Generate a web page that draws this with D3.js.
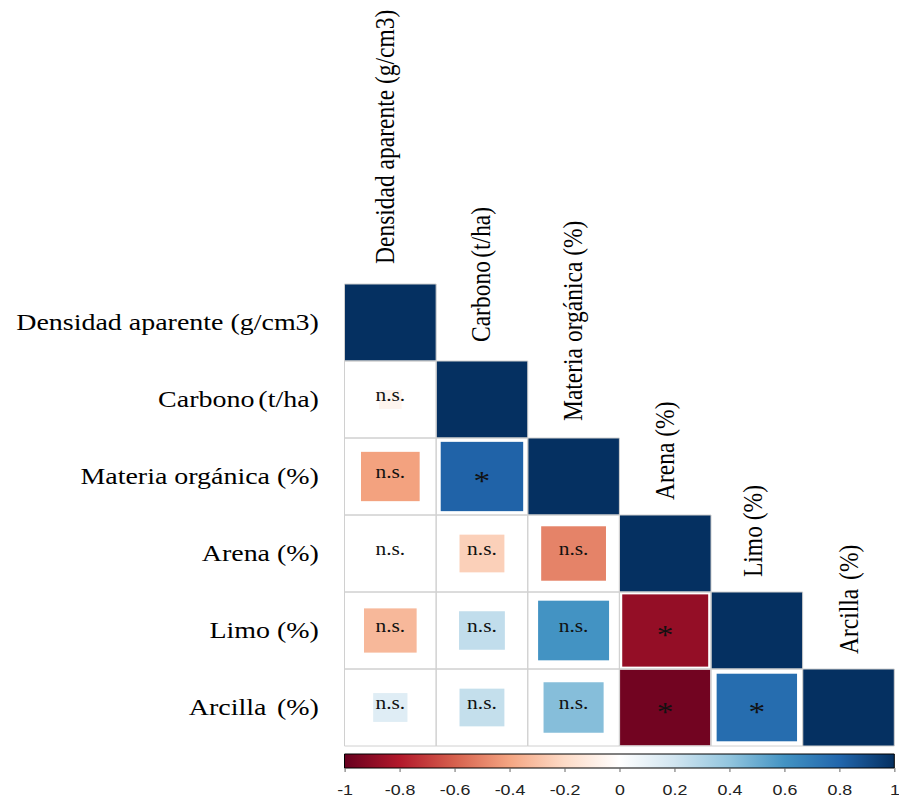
<!DOCTYPE html>
<html>
<head>
<meta charset="utf-8">
<script src="https://cdn.jsdelivr.net/npm/d3@7"></script>
<style>
  html, body { margin: 0; padding: 0; background: #ffffff; }
  svg { display: block; }
</style>
</head>
<body>
<svg id="chart" width="899" height="801"></svg>
<script>
// ---------------- DATA ----------------
const variables = [
  "Densidad aparente (g/cm3)",
  "Carbono (t/ha)",
  "Materia orgánica (%)",
  "Arena (%)",
  "Limo (%)",
  "Arcilla (%)"
];
// lower-triangle correlation coefficients, one array per row (last value = diagonal)
const rowDensidad = [1];
const rowCarbono  = [-0.06, 1];
const rowMateria  = [-0.41, 0.81, 1];
const rowArena    = [0.01, -0.24, -0.50, 1];
const rowLimo     = [-0.33, 0.25, 0.60, -0.88, 1];
const rowArcilla  = [0.14, 0.24, 0.43, -0.97, 0.77, 1];
// significance marks, one array per row
const sigDensidad = [""];
const sigCarbono  = ["n.s.", ""];
const sigMateria  = ["n.s.", "*", ""];
const sigArena    = ["n.s.", "n.s.", "n.s.", ""];
const sigLimo     = ["n.s.", "n.s.", "n.s.", "*", ""];
const sigArcilla  = ["n.s.", "n.s.", "n.s.", "*", "*", ""];
// colour ramp (corrplot RdBu) and colour-bar ticks
const colorStops = [-1, -0.8, -0.6, -0.4, -0.2, 0, 0.2, 0.4, 0.6, 0.8, 1];
const palette = ["#67001F", "#B2182B", "#D6604D", "#F4A582", "#FDDBC7", "#FFFFFF",
                 "#D1E5F0", "#92C5DE", "#4393C3", "#2166AC", "#053061"];
const colorbarTicks = [-1, -0.8, -0.6, -0.4, -0.2, 0, 0.2, 0.4, 0.6, 0.8, 1];

const corrRows = [rowDensidad, rowCarbono, rowMateria, rowArena, rowLimo, rowArcilla];
const sigRows  = [sigDensidad, sigCarbono, sigMateria, sigArena, sigLimo, sigArcilla];

// ---------------- LAYOUT ----------------
const sx = 1.19;           // horizontal stretch of the whole figure
const cell = 77;
const x0 = 289.5, y0 = 284;
const n = variables.length;
const serif = "'Liberation Serif', 'Times New Roman', serif";
const sans = "'Liberation Sans', Arial, sans-serif";

const svg = d3.select("#chart");
const g = svg.append("g").attr("transform", `scale(${sx},1)`);

const x = d3.scaleBand().domain(variables).range([x0, x0 + n * cell]);
const y = d3.scaleBand().domain(variables).range([y0, y0 + n * cell]);
const color = d3.scaleLinear().domain(colorStops).range(palette).interpolate(d3.interpolateRgb);

const cells = [];
corrRows.forEach((row, i) => row.forEach((r, j) => cells.push({ i, j, r, sig: sigRows[i][j] })));

// squares
g.append("g").selectAll("rect").data(cells).join("rect")
  .attr("x", d => x(variables[d.j]) + (x.bandwidth() - Math.sqrt(Math.abs(d.r)) * x.bandwidth()) / 2)
  .attr("y", d => y(variables[d.i]) + (y.bandwidth() - Math.sqrt(Math.abs(d.r)) * y.bandwidth()) / 2)
  .attr("width", d => Math.sqrt(Math.abs(d.r)) * x.bandwidth())
  .attr("height", d => Math.sqrt(Math.abs(d.r)) * y.bandwidth())
  .attr("fill", d => color(d.r));

// grid
g.append("g").selectAll("rect").data(cells).join("rect")
  .attr("x", d => x(variables[d.j]))
  .attr("y", d => y(variables[d.i]))
  .attr("width", x.bandwidth())
  .attr("height", y.bandwidth())
  .attr("fill", "none")
  .attr("stroke", "#d0d0d0")
  .attr("stroke-width", 1)
  .attr("vector-effect", "non-scaling-stroke");

// significance text
g.append("g").selectAll("text").data(cells.filter(d => d.sig !== "")).join("text")
  .attr("x", d => x(variables[d.j]) + x.bandwidth() / 2)
  .attr("y", d => y(variables[d.i]) + y.bandwidth() / 2)
  .attr("dy", d => d.sig === "*" ? "0.47em" : "0.11em")
  .attr("text-anchor", "middle")
  .attr("font-family", serif)
  .attr("font-size", d => d.sig === "*" ? 28 : 18)
  .attr("fill", "#111")
  .text(d => d.sig);

// label splitting helper (name + unit in parentheses)
const gapAdjust = { "Carbono (t/ha)": -2.5, "Arcilla (%)": 3 };
function writeLabel(sel, label) {
  const k = label.indexOf(" (");
  sel.append("tspan").text(label.slice(0, k));
  sel.append("tspan").attr("dx", gapAdjust[label] || 0).text(label.slice(k));
}

// row labels (left)
variables.forEach((v, i) => {
  const t = g.append("text")
    .attr("x", 268)
    .attr("y", y(v) + y.bandwidth() / 2)
    .attr("dy", "0.32em")
    .attr("text-anchor", "end")
    .attr("font-family", serif)
    .attr("font-size", 23.5)
    .attr("fill", "#000");
  writeLabel(t, v);
});

// column labels (diagonal, rotated)
const topGap = [20, 19, 17, 15, 15, 15];
const topShift = [-4, 0, 0, 0, -3, 1];
variables.forEach((v, i) => {
  const cx = x(v) + x.bandwidth() / 2 + topShift[i];
  const by = y(v) - topGap[i];
  const t = g.append("text")
    .attr("transform", `translate(${cx},${by}) rotate(-90)`)
    .attr("dy", "0.3em")
    .attr("text-anchor", "start")
    .attr("font-family", serif)
    .attr("font-size", 23.5)
    .attr("fill", "#000");
  writeLabel(t, v);
});

// ---------------- COLOUR BAR ----------------
const cb = d3.scaleLinear().domain([-1, 1]).range([x0, x0 + n * cell]);
const defs = svg.append("defs");
const grad = defs.append("linearGradient").attr("id", "cbgrad")
  .attr("x1", "0%").attr("x2", "100%").attr("y1", "0%").attr("y2", "0%");
grad.selectAll("stop").data(colorStops).join("stop")
  .attr("offset", d => ((d + 1) / 2 * 100) + "%")
  .attr("stop-color", d => color(d));

const barTop = 754, barH = 14;
g.append("rect")
  .attr("x", cb(-1)).attr("y", barTop)
  .attr("width", cb(1) - cb(-1)).attr("height", barH)
  .attr("fill", "url(#cbgrad)")
  .attr("stroke", "#000")
  .attr("stroke-width", 1)
  .attr("vector-effect", "non-scaling-stroke");

const axis = g.append("g")
  .attr("transform", `translate(0,${barTop + barH})`)
  .call(d3.axisBottom(cb).tickValues(colorbarTicks).tickSize(4).tickPadding(12).tickFormat(d => String(d)));
axis.select(".domain").remove();
axis.selectAll(".tick line").attr("stroke", "#666").attr("vector-effect", "non-scaling-stroke");
axis.selectAll(".tick text")
  .attr("font-family", sans)
  .attr("font-size", 15)
  .attr("fill", "#222");
</script>
</body>
</html>
